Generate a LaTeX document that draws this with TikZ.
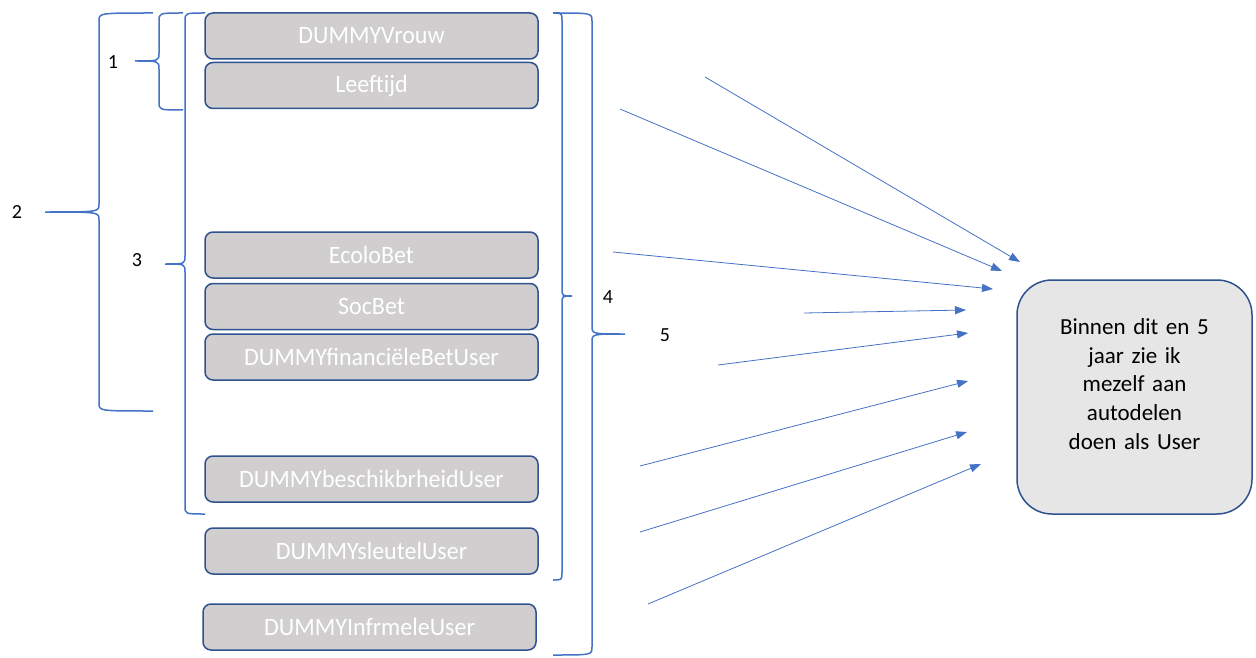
\documentclass[tikz,border=0pt]{standalone}
\usepackage{fontspec}
\setmainfont{Carlito}
\newfontfamily\boxfont[FakeStretch=0.96]{Carlito}
\usetikzlibrary{arrows.meta}

\definecolor{accent}{HTML}{4472C4}
\definecolor{rim}{HTML}{2F528F}
\definecolor{boxgray}{HTML}{D0CECE}
\definecolor{goalgray}{HTML}{E7E6E6}

\tikzset{
  varbox/.style={draw=rim, line width=1.5pt, fill=boxgray, rounded corners=8pt,
    minimum width=333pt, minimum height=46pt, inner sep=0pt, text=white,
    font=\boxfont\fontsize{25}{30}\selectfont},
  goalbox/.style={draw=rim, line width=1.5pt, fill=goalgray, rounded corners=35pt,
    minimum width=235pt, minimum height=234pt, text width=200pt, align=center,
    font=\fontsize{23}{28.75}\selectfont},
  brace/.style={draw=accent, line width=1.5pt},
  effect/.style={accent, line width=0.8pt, -{Triangle[length=11pt,width=8pt]}},
}

\begin{document}
\begin{tikzpicture}[x=1pt, y=-1pt]
    \useasboundingbox (0,0) rectangle (1256,658);

    % variabelen
    \foreach \n/\y/\t in {vrouw/36/DUMMYVrouw, leeftijd/85.5/Leeftijd,
        ecolo/255/EcoloBet, soc/306.5/SocBet, fin/357/DUMMYfinanciëleBetUser,
        beschik/479/DUMMYbeschikbrheidUser, sleutel/551/DUMMYsleutelUser}
        {\node[varbox] (\n) at (371.5,\y) {\t};}
    \node[varbox] (informeel) at (369.5,627) {DUMMYInfrmeleUser};

    % afhankelijke variabele
    \node[goalbox] (doel) at (1134.5,397)
        {Binnen dit en 5\\ jaar zie ik\\ mezelf aan\\ autodelen\\ doen als User\\[-2.75pt]\mbox{}};

    % accolades
    \foreach \n/\xe/\xs/\xt/\yt/\ym/\yb/\lx/\ly in {1/183/159/135/13/61/110/113/62,
        2/153/99/45/13/212/411/17/212, 3/205/185/165/13/264/514/137/260,
        4/553/562/572/13/296/580/608/297, 5/553/592/625/13/334/655/665/335}
    {
        \draw[brace] (\xe,\yt) .. controls (\xs,\yt) .. (\xs,\yt+8) -- (\xs,\ym-8)
            .. controls (\xs,\ym) .. (\xt,\ym) .. controls (\xs,\ym) .. (\xs,\ym+8)
            -- (\xs,\yb-8) .. controls (\xs,\yb) .. (\xe,\yb);
        \node[font=\fontsize{20}{24}\selectfont] (n\n) at (\lx,\ly) {\n};
    }

    % pijlen
    \foreach \i/\sx/\sy/\tx/\ty in {1/705/77/1020/262, 2/620/109/1002/271,
        3/613/252/993/289, 4/804/313/966/310, 5/718/365/968/333,
        6/640/466/968/381, 7/640/532/967/432, 8/648/604/981/464}
    {
        \coordinate (s\i) at (\sx,\sy);
        \coordinate (t\i) at (\tx,\ty);
        \draw[effect] (s\i) -- (t\i);
    }
\end{tikzpicture}
\end{document}
